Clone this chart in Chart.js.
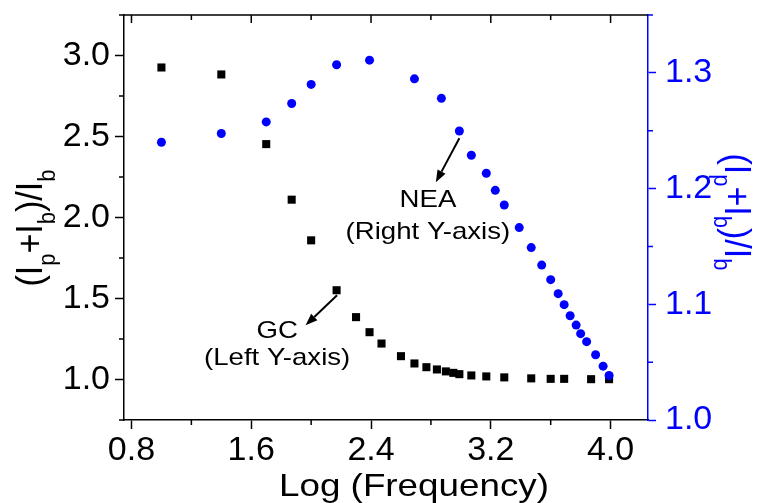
<!DOCTYPE html>
<html lang="en">
  <head>
    <meta charset="UTF-8" />
    <title>GC / NEA vs Log (Frequency)</title>
    <style>
      html, body { margin: 0; padding: 0; background: #fff; }
      .wrap { position: relative; width: 761px; height: 503px; }
    </style>
  </head>
  <body>
    <div class="wrap"><canvas id="freqChart"></canvas></div>

    <script src="https://cdn.jsdelivr.net/npm/chart.js@4"></script>
    <script>
      // GC (left Y-axis), black squares
      const gcX = [1.0, 1.4, 1.7, 1.87, 2.0, 2.17, 2.3, 2.39, 2.47, 2.6, 2.69, 2.77,
                   2.84, 2.9, 2.95, 2.99, 3.07, 3.17, 3.29, 3.47, 3.6, 3.69, 3.87, 3.99];
      const gcY = [2.926, 2.883, 2.453, 2.110, 1.859, 1.551, 1.385, 1.292, 1.222, 1.144, 1.099, 1.076,
                   1.062, 1.050, 1.041, 1.033, 1.025, 1.019, 1.013, 1.007, 1.004, 1.004, 1.002, 1.002];

      // NEA (right Y-axis), blue circles
      const neaX = [1.0, 1.4, 1.7, 1.87, 2.0, 2.17, 2.39, 2.69, 2.87, 2.99, 3.07, 3.17, 3.23, 3.29,
                    3.39, 3.47, 3.54, 3.6, 3.65, 3.69, 3.73, 3.77, 3.8, 3.84, 3.9, 3.95, 3.99];
      const neaY = [1.240, 1.2476, 1.2576, 1.2735, 1.290, 1.307, 1.311, 1.2948, 1.278, 1.2498, 1.2288,
                    1.2132, 1.1985, 1.1858, 1.1663, 1.149, 1.1339, 1.1213, 1.1092, 1.0997, 1.0901,
                    1.0820, 1.0746, 1.0677, 1.0564, 1.0465, 1.0385];

      // tick values
      const xTicks = [0.8, 1.6, 2.4, 3.2, 4.0];
      const xMinor = [1.2, 2.0, 2.8, 3.6];
      const yTicks = [1.0, 1.5, 2.0, 2.5, 3.0];
      const yMinor = [0.75, 1.25, 1.75, 2.25, 2.75, 3.25];
      const y1Ticks = [1.0, 1.1, 1.2, 1.3];
      const y1Minor = [1.05, 1.15, 1.25, 1.35];

      const FONT = "'Liberation Sans', Arial, sans-serif";
      const SX = 1.15; // text in the original is a bit wide
      const BLUE = "#0000ff";

      const yTitle = [["(I", 0], ["p", 1], ["+I", 0], ["b", 1], [")/I", 0], ["b", 1]];

      // annotations, in data units
      const notes = [
        { lines: ["NEA", "(Right Y-axis)"], axis: "y1", at: [2.78, 1.1843], gap: 32,
          from: [2.99, 1.2435], to: [2.833, 1.2055] },
        { lines: ["GC", "(Left Y-axis)"], axis: "y", at: [1.773, 1.255], gap: 27,
          from: [2.173, 1.52], to: [1.963, 1.335] },
      ];

      function wideText(ctx, txt, x, y, align) {
        ctx.save();
        ctx.translate(x, y);
        ctx.scale(SX, 1);
        ctx.textAlign = align;
        ctx.fillText(txt, 0, 0);
        ctx.restore();
      }

      function richTitle(ctx, parts, main, sub, shift) {
        let total = 0;
        parts.forEach(([t, s]) => {
          ctx.font = (s ? sub : main) + "px " + FONT;
          total += ctx.measureText(t).width;
        });
        let cx = -total / 2;
        parts.forEach(([t, s]) => {
          ctx.font = (s ? sub : main) + "px " + FONT;
          ctx.fillText(t, cx, s ? shift : 0);
          cx += ctx.measureText(t).width;
        });
      }

      function arrow(ctx, x1, y1, x2, y2) {
        const a = Math.atan2(y2 - y1, x2 - x1);
        const L = 12, W = 4.5;
        const bx = x2 - L * Math.cos(a), by = y2 - L * Math.sin(a);
        ctx.beginPath();
        ctx.moveTo(x1, y1);
        ctx.lineTo(bx, by);
        ctx.stroke();
        ctx.beginPath();
        ctx.moveTo(x2, y2);
        ctx.lineTo(bx + W * Math.sin(a), by - W * Math.cos(a));
        ctx.lineTo(bx - W * Math.sin(a), by + W * Math.cos(a));
        ctx.closePath();
        ctx.fill();
      }

      const decor = {
        id: "decor",
        afterDraw(chart) {
          const { ctx, chartArea: a } = chart;
          const { x, y, y1 } = chart.scales;
          ctx.save();
          ctx.lineWidth = 1.5;

          // top frame with inward ticks, minor ticks elsewhere
          ctx.strokeStyle = "#000";
          ctx.beginPath();
          ctx.moveTo(a.left, a.top);
          ctx.lineTo(a.right, a.top);
          xTicks.forEach((v) => {
            const px = x.getPixelForValue(v);
            ctx.moveTo(px, a.top);
            ctx.lineTo(px, a.top + 8);
          });
          xMinor.forEach((v) => {
            const px = x.getPixelForValue(v);
            ctx.moveTo(px, a.top);
            ctx.lineTo(px, a.top + 5);
            ctx.moveTo(px, a.bottom);
            ctx.lineTo(px, a.bottom + 5);
          });
          yMinor.forEach((v) => {
            const py = y.getPixelForValue(v);
            ctx.moveTo(a.left, py);
            ctx.lineTo(a.left - 5, py);
          });
          ctx.stroke();

          ctx.strokeStyle = BLUE;
          ctx.beginPath();
          y1Minor.forEach((v) => {
            const py = y1.getPixelForValue(v);
            ctx.moveTo(a.right, py);
            ctx.lineTo(a.right + 5, py);
          });
          ctx.stroke();

          // axis titles
          ctx.textBaseline = "alphabetic";
          ctx.fillStyle = "#000";
          ctx.font = "32px " + FONT;
          wideText(ctx, "Log (Frequency)", 414, 496, "center");

          ctx.save();
          ctx.translate(42, 228);
          ctx.scale(1.1, 1);
          ctx.rotate(-Math.PI / 2);
          ctx.textAlign = "left";
          richTitle(ctx, yTitle, 34, 22, 12);
          ctx.restore();

          ctx.save();
          ctx.fillStyle = BLUE;
          ctx.translate(725, 212);
          ctx.scale(1.1, 1);
          ctx.rotate(Math.PI / 2);
          ctx.textAlign = "left";
          richTitle(ctx, yTitle, 34, 22, 10);
          ctx.restore();

          // notes with arrows
          ctx.fillStyle = "#000";
          ctx.strokeStyle = "#000";
          ctx.lineWidth = 2;
          ctx.font = "24px " + FONT;
          notes.forEach((n) => {
            const ys = chart.scales[n.axis];
            const tx = x.getPixelForValue(n.at[0]);
            const ty = ys.getPixelForValue(n.at[1]);
            n.lines.forEach((t, i) => wideText(ctx, t, tx, ty + i * n.gap, "center"));
            arrow(ctx,
              x.getPixelForValue(n.from[0]), ys.getPixelForValue(n.from[1]),
              x.getPixelForValue(n.to[0]), ys.getPixelForValue(n.to[1]));
          });
          ctx.restore();
        },
      };

      function fixTicks(list) {
        return (scale) => {
          scale.ticks = list.map((v) => ({ value: v }));
        };
      }

      // fixed axis sizes, no extra label padding pushing the plot in
      function fixSize(w, h) {
        return (s) => {
          if (w) s.width = w;
          if (h) s.height = h;
          s.paddingTop = 0;
          s.paddingBottom = 0;
          s.paddingLeft = 0;
          s.paddingRight = 0;
        };
      }

      const tickFont = { family: FONT, size: 34 };

      const ctx = document.getElementById("freqChart").getContext("2d");
      const freqChart = new Chart(ctx, {
        type: "scatter",
        data: {
          datasets: [
            {
              label: "NEA",
              data: neaX.map((v, i) => ({ x: v, y: neaY[i] })),
              yAxisID: "y1",
              pointStyle: "circle",
              pointRadius: 4.5,
              backgroundColor: BLUE,
              borderWidth: 0,
              order: 0,
            },
            {
              label: "GC",
              data: gcX.map((v, i) => ({ x: v, y: gcY[i] })),
              yAxisID: "y",
              pointStyle: "rect",
              pointRadius: 5.7,
              backgroundColor: "#000",
              borderWidth: 0,
              order: 1,
            },
          ],
        },
        options: {
          responsive: true,
          maintainAspectRatio: false,
          animation: false,
          events: [],
          layout: { autoPadding: false, padding: { top: 15, left: 0, right: 0, bottom: 0 } },
          plugins: {
            legend: { display: false },
            tooltip: { enabled: false },
          },
          scales: {
            x: {
              type: "linear",
              position: "bottom",
              min: 0.75,
              max: 4.25,
              afterBuildTicks: fixTicks(xTicks),
              afterFit: fixSize(0, 83),
              ticks: {
                font: tickFont, color: "#000", padding: 1,
                autoSkip: false, maxRotation: 0,
                callback: (v) => Number(v).toFixed(1),
              },
              grid: { drawOnChartArea: false, tickLength: 9, tickColor: "#000", tickWidth: 1.5 },
              border: { color: "#000", width: 1.5 },
            },
            y: {
              type: "linear",
              position: "left",
              min: 0.75,
              max: 3.25,
              afterBuildTicks: fixTicks(yTicks),
              afterFit: fixSize(124, 0),
              ticks: {
                font: tickFont, color: "#000", padding: 5, autoSkip: false,
                callback: (v) => Number(v).toFixed(1),
              },
              grid: { drawOnChartArea: false, tickLength: 9, tickColor: "#000", tickWidth: 1.5 },
              border: { color: "#000", width: 1.5 },
            },
            y1: {
              type: "linear",
              position: "right",
              min: 1.0,
              max: 1.35,
              afterBuildTicks: fixTicks(y1Ticks),
              afterFit: fixSize(113, 0),
              ticks: {
                font: tickFont, color: BLUE, padding: 9, autoSkip: false,
                callback: (v) => Number(v).toFixed(1),
              },
              grid: { drawOnChartArea: false, tickLength: 8, tickColor: BLUE, tickWidth: 1.5 },
              border: { color: BLUE, width: 1.5 },
            },
          },
        },
        plugins: [decor],
      });
    </script>
  </body>
</html>
